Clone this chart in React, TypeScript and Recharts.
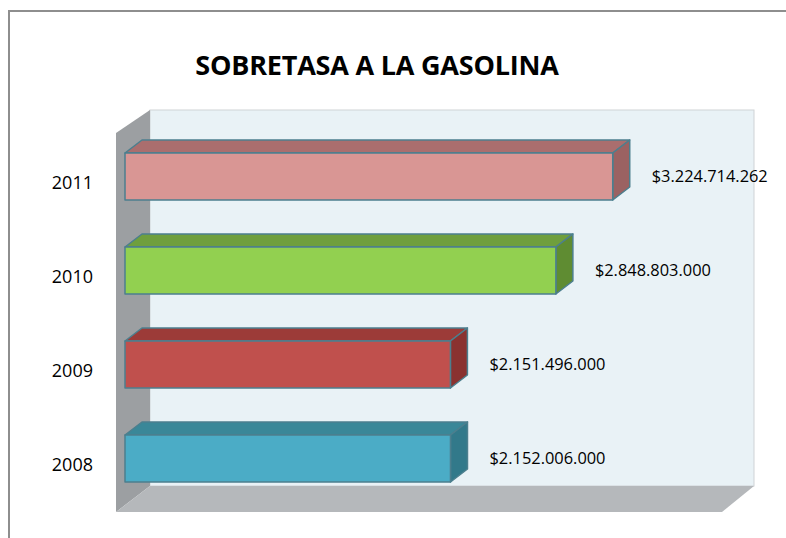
import { BarChart, Bar, XAxis, YAxis, LabelList } from 'recharts';

const years = ['2011', '2010', '2009', '2008'];
const amounts = [3224714262, 2848803000, 2151496000, 2152006000];

const FRONT = ['#d99694', '#92d050', '#c0504d', '#4bacc6'];
const TOP = ['#aa6e6e', '#6f9f3d', '#9c3b38', '#3a8798'];
const SIDE = ['#9b6262', '#5f8c32', '#8a3230', '#32798a'];
const EDGE = '#4c7f8e';

const W = 786;
const H = 538;
const M = { top: 129, right: 56, bottom: 33, left: 40 };
const AXIS_W = 85;
const DX = 17;
const DY = 13;
const FONT = '"Open Sans", sans-serif';

const data = years.map((year, i) => ({ year, amount: amounts[i] }));

const money = (v: number) => '$' + String(v).replace(/\B(?=(\d{3})+(?!\d))/g, '.');

// plot box in the bars' front plane
const PL = M.left + AXIS_W;
const PR = W - M.right;
const PT = M.top;
const PB = H - M.bottom;

function Box(props: any) {
  const { x, y, width, height, index } = props;
  const r = x + width;
  return (
    <g stroke={EDGE} strokeWidth={1.5} strokeLinejoin="round">
      <polygon points={`${x},${y} ${x + DX},${y - DY} ${r + DX},${y - DY} ${r},${y}`} fill={TOP[index]} />
      <polygon points={`${r},${y} ${r + DX},${y - DY} ${r + DX},${y + height - DY} ${r},${y + height}`} fill={SIDE[index]} />
      <rect x={x} y={y} width={width} height={height} fill={FRONT[index]} />
    </g>
  );
}

function YearTick(props: any) {
  const { x, y, payload } = props;
  return (
    <text x={x} y={y + 13} textAnchor="end" fontFamily={FONT} fontSize={18} fill="#000">
      {payload.value}
    </text>
  );
}

function ValueLabel(props: any) {
  const { x, y, width, height, value } = props;
  return (
    <text x={x + width + 39} y={y + height / 2 + 5} fontFamily={FONT} fontSize={16.4} fill="#000">
      {money(value)}
    </text>
  );
}

function Walls() {
  const bx0 = PL + 25, bx1 = PR + 24, by0 = PT - 19, by1 = PB - 19;
  const fx0 = PL - 9, fx1 = PR - 8, fy1 = PB + 7;
  return (
    <svg width={W} height={H} style={{ position: 'absolute', left: 0, top: 0 }}>
      <line x1={8} y1={11} x2={W} y2={11} stroke="#8e8e8e" strokeWidth={2} />
      <line x1={9} y1={11} x2={9} y2={H} stroke="#8e8e8e" strokeWidth={2} />
      <text x={377} y={75} textAnchor="middle" fontFamily={FONT} fontWeight="bold" fontSize={27} letterSpacing={-0.2} fill="#000">
        SOBRETASA A LA GASOLINA
      </text>
      <rect x={bx0} y={by0} width={bx1 - bx0} height={by1 - by0} fill="#e9f2f6" stroke="#cfd3d6" strokeWidth={1} />
      <polygon points={`${fx0},${by0 + 23} ${bx0},${by0} ${bx0},${by1} ${fx0},${fy1}`} fill="#9c9fa2" />
      <polygon points={`${bx0},${by1} ${bx1},${by1} ${fx1},${fy1} ${fx0},${fy1}`} fill="#b5b8bb" />
    </svg>
  );
}

export default function App() {
  return (
    <div style={{ position: 'absolute', left: 0, top: 0, width: W, height: H, background: '#fff' }}>
      <Walls />
      <div style={{ position: 'absolute', left: 0, top: 0 }}>
        <BarChart width={W} height={H} data={data} layout="vertical" margin={M}>
          <XAxis type="number" domain={[0, 4000000000]} hide />
          <YAxis
            type="category"
            dataKey="year"
            width={AXIS_W}
            axisLine={false}
            tickLine={false}
            tickSize={0}
            tickMargin={32}
            tick={<YearTick />}
          />
          <Bar dataKey="amount" barSize={47} shape={<Box />} isAnimationActive={false}>
            <LabelList dataKey="amount" content={<ValueLabel />} />
          </Bar>
        </BarChart>
      </div>
    </div>
  );
}
